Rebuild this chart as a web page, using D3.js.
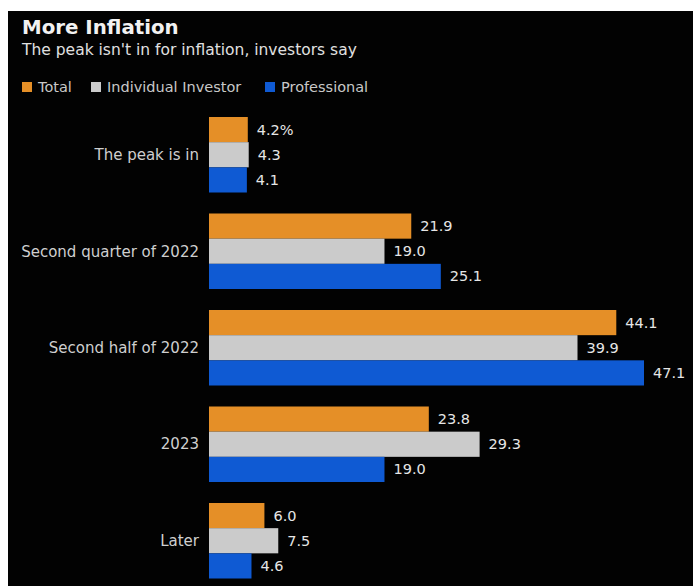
<!DOCTYPE html>
<html>
<head>
<meta charset="utf-8">
<script src="https://cdn.jsdelivr.net/npm/d3@7"></script>
<style>
  body { margin: 0; background: #fff; }
  svg { display: block; }
</style>
</head>
<body>
<div id="chart"></div>
<script>
const WIDTH = 693;
const HEIGHT = 586;

// datos
const categorias = ["The peak is in", "Second quarter of 2022", "Second half of 2022", "2023", "Later"];
const series = ["Total", "Individual Investor", "Professional"];
const total = [4.2, 21.9, 44.1, 23.8, 6.0];
const individual = [4.3, 19.0, 39.9, 29.3, 7.5];
const profesional = [4.1, 25.1, 47.1, 19.0, 4.6];

const colores = ["#e58f27", "#cbcbcb", "#0f5ad3"];
const valores = [total, individual, profesional];

const FONT = "DejaVu Sans";

const SVG = d3.select("#chart").append("svg")
  .attr("width", WIDTH).attr("height", HEIGHT);

// fondo negro con el borde blanco del recorte
SVG.append("rect").attr("x", 8).attr("y", 11)
  .attr("width", WIDTH - 8).attr("height", HEIGHT - 11)
  .attr("fill", "#020202");

SVG.append("text").attr("x", 22).attr("y", 34)
  .attr("font-family", FONT).attr("font-size", "19.8px").attr("font-weight", "bold")
  .attr("fill", "#f2f2f2").text("More Inflation");

SVG.append("text").attr("x", 22).attr("y", 55)
  .attr("font-family", FONT).attr("font-size", "15.5px")
  .attr("fill", "#e0e0e0").text("The peak isn't in for inflation, investors say");

// leyenda
const leyendaX = [22, 91, 265];
const leyenda = SVG.append("g");
series.forEach((s, i) => {
  leyenda.append("rect").attr("x", leyendaX[i]).attr("y", 82)
    .attr("width", 10).attr("height", 10).attr("fill", colores[i]);
  leyenda.append("text").attr("x", leyendaX[i] + 16).attr("y", 92)
    .attr("font-family", FONT).attr("font-size", "14.5px")
    .attr("fill", "#c8c8c8").text(s);
});

const x = d3.scaleLinear().domain([0, 47.1]).range([209, 644]);
const y = d3.scaleBand().domain(categorias).range([117, 578.5]).paddingInner(0.2176).paddingOuter(0);
const ySub = d3.scaleBand().domain(series).range([0, y.bandwidth()]);

const filas = [];
categorias.forEach((c, ci) => {
  series.forEach((s, si) => {
    filas.push({ cat: c, serie: s, idx: si, valor: valores[si][ci], primero: ci === 0 && si === 0 });
  });
});

const grupo = SVG.append("g");

grupo.selectAll("rect.barra")
  .data(filas)
  .enter()
  .append("rect")
  .attr("class", "barra")
  .attr("x", x(0))
  .attr("y", d => y(d.cat) + ySub(d.serie))
  .attr("width", d => x(d.valor) - x(0))
  .attr("height", ySub.bandwidth())
  .attr("fill", d => colores[d.idx]);

grupo.selectAll("text.valor")
  .data(filas)
  .enter()
  .append("text")
  .attr("class", "valor")
  .attr("x", d => x(d.valor) + 9)
  .attr("y", d => y(d.cat) + ySub(d.serie) + ySub.bandwidth() / 2)
  .attr("dy", "0.35em")
  .attr("font-family", FONT).attr("font-size", "14.5px")
  .attr("fill", "#e6e6e6")
  .text(d => d.valor.toFixed(1) + (d.primero ? "%" : ""));

grupo.selectAll("text.cat")
  .data(categorias)
  .enter()
  .append("text")
  .attr("class", "cat")
  .attr("x", 199)
  .attr("y", d => y(d) + y.bandwidth() / 2)
  .attr("dy", "0.35em")
  .attr("text-anchor", "end")
  .attr("font-family", FONT).attr("font-size", "15px")
  .attr("fill", "#cfcfcf")
  .text(d => d);
</script>
</body>
</html>
